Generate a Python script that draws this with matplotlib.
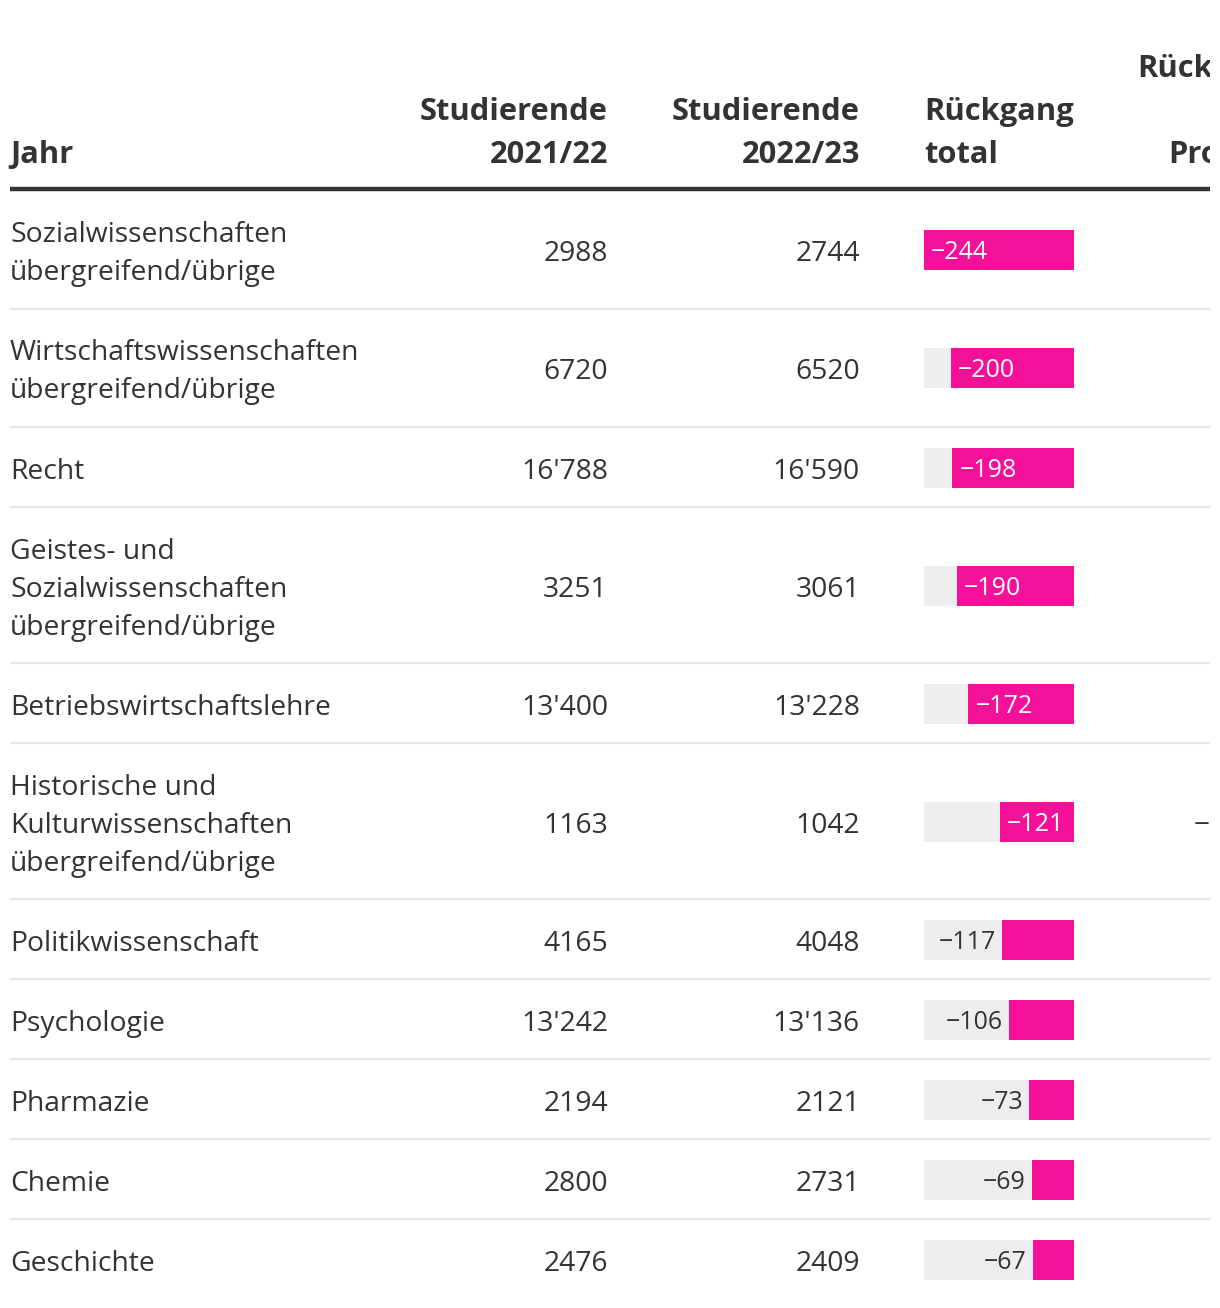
import matplotlib.pyplot as plt

plt.rcParams['font.family'] = ['Open Sans', 'DejaVu Sans']

faecher = [
    'Sozialwissenschaften\nübergreifend/übrige',
    'Wirtschaftswissenschaften\nübergreifend/übrige',
    'Recht',
    'Geistes- und\nSozialwissenschaften\nübergreifend/übrige',
    'Betriebswirtschaftslehre',
    'Historische und\nKulturwissenschaften\nübergreifend/übrige',
    'Politikwissenschaft',
    'Psychologie',
    'Pharmazie',
    'Chemie',
    'Geschichte',
]
stud_2122 = [2988, 6720, 16788, 3251, 13400, 1163, 4165, 13242, 2194, 2800, 2476]
stud_2223 = [2744, 6520, 16590, 3061, 13228, 1042, 4048, 13136, 2121, 2731, 2409]
rueckgang = [-244, -200, -198, -190, -172, -121, -117, -106, -73, -69, -67]
prozent = [-8.2, -3.0, -1.2, -5.8, -1.3, -10.4, -2.8, -0.8, -3.3, -2.5, -2.7]

header_cols = ['Jahr', 'Studierende\n2021/22', 'Studierende\n2022/23',
               'Rückgang\ntotal', 'Rückgang\nin\nProzent']

W, H = 1220, 1308
PINK = '#f5109a'
GREY = '#ededed'
TXT = '#333333'
FS = 20.3
FS_HEAD = 22.2
FS_BAR = 18.0
LINE = 38

# row layout (pixels)
row_centers = [250, 368, 468, 586, 704, 822, 940, 1020, 1100, 1180, 1260]
separators = [309, 427, 507, 663, 743, 899, 979, 1059, 1139, 1219]

fig = plt.figure(figsize=(W / 100, H / 100), dpi=100)
ax = fig.add_axes([0, 0, 1210 / W, 1])
ax.set_xlim(0, 1210)
ax.set_ylim(H, 0)
ax.axis('off')


def fmt(n):
    if n >= 10000:
        return f'{n:,}'.replace(',', "'")
    return str(n)


def fmt_pct(p):
    return f'{p:.1f}'.replace('-', '\u2212')


# header
col_x = [10, 608, 860, 924, 1287]
col_ha = ['left', 'right', 'right', 'left', 'right']
for lab, x, ha in zip(header_cols, col_x, col_ha):
    lines = lab.split('\n')
    n = len(lines)
    for i, ln in enumerate(lines):
        base = 163 - (n - 1 - i) * 43
        ax.text(x, base, ln, ha=ha, va='baseline', fontsize=FS_HEAD,
                fontweight='bold', color=TXT, clip_on=True)
ax.plot([10, 1210], [189, 189], color=TXT, lw=3.2, solid_capstyle='butt')

for s in separators:
    ax.plot([10, 1210], [s, s], color='#e8e8e8', lw=1.6, solid_capstyle='butt')

# body text
for lab, c, a, b, p in zip(faecher, row_centers, stud_2122, stud_2223, prozent):
    lines = lab.split('\n')
    n = len(lines)
    for i, ln in enumerate(lines):
        base = c + 11 + (i - (n - 1) / 2) * LINE
        ax.text(10, base, ln, ha='left', va='baseline', fontsize=FS, color=TXT)
    ax.text(608, c + 11, fmt(a), ha='right', va='baseline', fontsize=FS, color=TXT)
    ax.text(860, c + 11, fmt(b), ha='right', va='baseline', fontsize=FS, color=TXT)
    ax.text(1266, c + 11, fmt_pct(p), ha='right', va='baseline', fontsize=FS,
            color=TXT, clip_on=True)

# bar column
vmax = max(abs(v) for v in rueckgang)
bx = fig.add_axes([924 / W, 0, 150 / W, 1])
bx.set_xlim(-vmax, 0)
bx.set_ylim(H, 0)
bx.axis('off')
bx.barh(row_centers, [-vmax] * len(rueckgang), left=0, height=40, color=GREY)
bx.barh(row_centers, rueckgang, left=0, height=40, color=PINK)
px = vmax / 150.0
for c, v in zip(row_centers, rueckgang):
    lab = str(v).replace('-', '\u2212')
    if abs(v) >= 120:
        bx.text(v + 7 * px, c + 9, lab, ha='left', va='baseline',
                fontsize=FS_BAR, color='white')
    else:
        bx.text(v - 6 * px, c + 9, lab, ha='right', va='baseline',
                fontsize=FS_BAR, color=TXT)

fig.savefig('out.png', dpi=100, facecolor='white')
